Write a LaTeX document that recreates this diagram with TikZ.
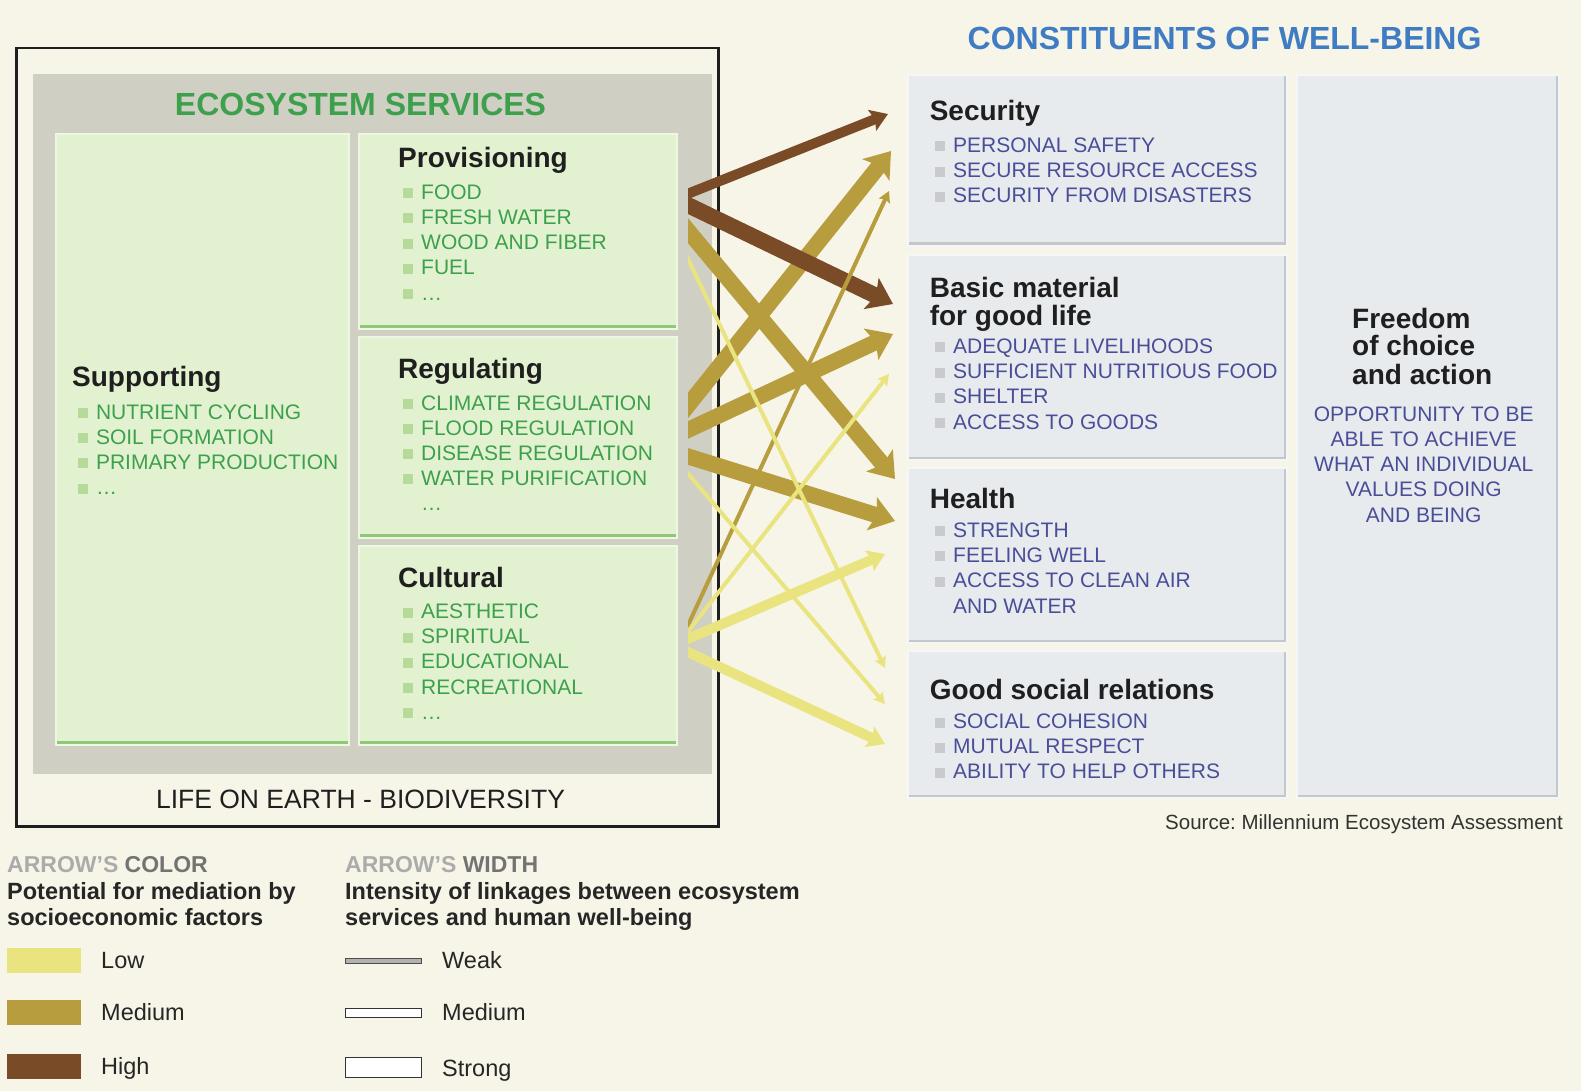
\documentclass[tikz,border=0pt]{standalone}
\usepackage{fontspec}
\setmainfont{Liberation Sans}
\usepackage{xcolor}
\usetikzlibrary{arrows.meta}
\definecolor{PageBg}{HTML}{F7F5E8}
\definecolor{PanelGray}{HTML}{D0CFC3}
\definecolor{GreenFill}{HTML}{E2F2D0}
\definecolor{GreenLight}{HTML}{EDF7E2}
\definecolor{GreenEdge}{HTML}{8FC977}
\definecolor{GreenText}{HTML}{3DA04C}
\definecolor{GreenSq}{HTML}{B6DA9A}
\definecolor{BlueFill}{HTML}{E8EBEE}
\definecolor{BlueEdge}{HTML}{C4C8CC}
\definecolor{BlueText}{HTML}{4A4E98}
\definecolor{BlueTitle}{HTML}{3F7CC4}
\definecolor{GraySq}{HTML}{C8CACD}
\definecolor{LowCol}{HTML}{E9E47F}
\definecolor{MedCol}{HTML}{B79D3E}
\definecolor{HighCol}{HTML}{7A4B27}
\newcommand{\gsq}{\textcolor{GreenSq}{\rule[1pt]{10pt}{10pt}}\hspace{8pt}}
\newcommand{\wsq}{\textcolor{GraySq}{\rule[1pt]{10pt}{10pt}}\hspace{8pt}}
\frenchspacing

\begin{document}
\begin{tikzpicture}[x=1pt,y=-1pt,
        gbox/.style={anchor=north west, inner sep=0pt, fill=GreenFill, draw=GreenLight, line width=2pt,
            path picture={\draw[GreenEdge,line width=8pt] (path picture bounding box.south west) -- (path picture bounding box.south east);}},
        wbox/.style={anchor=north west, inner sep=0pt, fill=BlueFill, draw=white!55!BlueFill, line width=2pt,
            path picture={\draw[BlueEdge,line width=7pt] (path picture bounding box.south west) -- (path picture bounding box.south east) -- (path picture bounding box.north east);}},
        head/.style={anchor=base west, inner sep=0pt, font=\bfseries\fontsize{28}{30}\selectfont, text=black!88},
        gitem/.style={anchor=base west, inner sep=0pt, font=\fontsize{21}{25}\selectfont, text=GreenText},
        witem/.style={anchor=base west, inner sep=0pt, font=\fontsize{21}{25}\selectfont, text=BlueText},
        legend/.style={anchor=base west, inner sep=0pt, font=\fontsize{23.5}{26}\selectfont, text=black!85},
        swatch/.style={anchor=north west, inner sep=0pt, minimum width=74pt, minimum height=25pt},
        StrongLink/.style={line width=16pt, -{Stealth[length=24pt,width=34pt,inset=5pt]}},
        MediumLink/.style={line width=10pt, -{Stealth[length=17pt,width=22pt,inset=3pt]}},
        WeakLink/.style={line width=4pt, -{Stealth[length=11pt,width=12pt,inset=2pt]}}]
                \fill[PageBg] (0,0) rectangle (1581,1091);

                % left side: ecosystem services
                \node[draw=black!88, line width=2.5pt, anchor=north west, inner sep=0pt, minimum width=702pt, minimum height=778pt] (frame) at (15,47) {};
                \node[fill=PanelGray, anchor=north west, inner sep=0pt, minimum width=679pt, minimum height=700pt] (panel) at (33,74) {};
                \node[font=\bfseries\fontsize{32}{34}\selectfont, text=GreenText, anchor=base, inner sep=0pt] (es) at (360.5,115.4) {ECOSYSTEM SERVICES};
                \node[gbox, minimum width=293pt, minimum height=611pt] (supp) at (55,133) {};
                \node[gbox, minimum width=318pt, minimum height=195pt] (prov) at (358,133) {};
                \node[gbox, minimum width=318pt, minimum height=201pt] (reg) at (358,336) {};
                \node[gbox, minimum width=318pt, minimum height=199pt] (cult) at (358,545) {};

                \node[head] (suppT) at (72,386) {Supporting};
                \foreach[count=\i] \lbl in {NUTRIENT CYCLING, SOIL FORMATION, PRIMARY PRODUCTION, \dots} {
                    \node[gitem] (supp-\i) at (77.8,393.8+25.2*\i) {\gsq\lbl};
                }
                \node[head] (provT) at (398,168) {Provisioning};
                \foreach[count=\i] \lbl in {FOOD, FRESH WATER, WOOD AND FIBER, FUEL, \dots} {
                    \node[gitem] (prov-\i) at (403,174+25.2*\i) {\gsq\lbl};
                }
                \node[head] (regT) at (398,378) {Regulating};
                \foreach[count=\i] \lbl in {CLIMATE REGULATION, FLOOD REGULATION, DISEASE REGULATION, WATER PURIFICATION} {
                    \node[gitem] (reg-\i) at (403,385+25*\i) {\gsq\lbl};
                }
                \node[gitem] (reg-5) at (421,510) {\dots};
                \node[head] (cultT) at (398,587) {Cultural};
                \foreach[count=\i] \lbl in {AESTHETIC, SPIRITUAL, EDUCATIONAL, RECREATIONAL, \dots} {
                    \node[gitem] (cult-\i) at (403,593.3+25.2*\i) {\gsq\lbl};
                }
                \node[font=\fontsize{26.5}{28}\selectfont, text=black!88, anchor=base, inner sep=0pt] (life) at (360.5,808) {LIFE ON EARTH - BIODIVERSITY};

                % right side: constituents of well-being
                \node[font=\bfseries\fontsize{32}{34}\selectfont, text=BlueTitle, anchor=base, inner sep=0pt] (cwb) at (1224.6,49.8) {CONSTITUENTS OF WELL-BEING};
                \node[wbox, minimum width=379pt, minimum height=171pt] (sec) at (907,74) {};
                \node[wbox, minimum width=379pt, minimum height=205pt] (basic) at (907,254) {};
                \node[wbox, minimum width=379pt, minimum height=175pt] (health) at (907,467) {};
                \node[wbox, minimum width=379pt, minimum height=147pt] (social) at (907,650) {};
                \node[wbox, minimum width=262pt, minimum height=723pt] (free) at (1296,74) {};

                \node[head] (secT) at (929.6,121) {Security};
                \foreach[count=\i] \lbl in {PERSONAL SAFETY, SECURE RESOURCE ACCESS, SECURITY FROM DISASTERS} {
                    \node[witem] (sec-\i) at (935,127.3+25.2*\i) {\wsq\lbl};
                }
                \node[head] (basicT) at (929.6,297.4) {Basic material};
                \node[head] (basicT2) at (929.6,325.6) {for good life};
                \foreach[count=\i] \lbl in {ADEQUATE LIVELIHOODS, SUFFICIENT NUTRITIOUS FOOD, SHELTER, ACCESS TO GOODS} {
                    \node[witem] (basic-\i) at (935,328.2+25.2*\i) {\wsq\lbl};
                }
                \node[head] (healthT) at (929.6,508) {Health};
                \foreach[count=\i] \lbl in {STRENGTH, FEELING WELL, ACCESS TO CLEAN AIR} {
                    \node[witem] (health-\i) at (935,511.6+25.4*\i) {\wsq\lbl};
                }
                \node[witem] (health-4) at (953,613.5) {AND WATER};
                \node[head] (socialT) at (929.6,699.7) {Good social relations};
                \foreach[count=\i] \lbl in {SOCIAL COHESION, MUTUAL RESPECT, ABILITY TO HELP OTHERS} {
                    \node[witem] (social-\i) at (935,703.3+25.2*\i) {\wsq\lbl};
                }
                \node[head] (freeT1) at (1352,328.6) {Freedom};
                \node[head] (freeT2) at (1352,355.9) {of choice};
                \node[head] (freeT3) at (1352,384) {and action};
                \foreach[count=\i] \lbl in {OPPORTUNITY TO BE, ABLE TO ACHIEVE, WHAT AN INDIVIDUAL, VALUES DOING, AND BEING} {
                    \node[witem, anchor=base] (free-\i) at (1423.7,396+25.2*\i) {\lbl};
                }
                \node[anchor=base east, inner sep=0pt, font=\fontsize{20.5}{22}\selectfont, text=black!80] (src) at (1563,829) {Source: Millennium Ecosystem Assessment};

                % linkages
                \begin{scope}
                \clip (688,0) rectangle (1581,1091);
                \draw[MedCol, StrongLink] ([shift={(0,-19.6)}]reg.east) -- ([shift={(-16,-9.5)}]sec.west);
                \draw[MedCol, StrongLink] ([shift={(0,-2.9)}]reg.east) -- ([shift={(-14,-23.5)}]basic.west);
                \draw[MedCol, StrongLink] ([shift={(0,15.8)}]reg.east) -- ([shift={(-12,-34.5)}]health.west);
                \draw[MedCol, StrongLink] ([shift={(0,-12.8)}]prov.east) -- ([shift={(-12,-76.5)}]health.west);
                \draw[HighCol, StrongLink] ([shift={(0,-31.2)}]prov.east) -- ([shift={(-14,-53.5)}]basic.west);
                \draw[HighCol, MediumLink] ([shift={(0,-33.8)}]prov.east) -- ([shift={(-19,-46.5)}]sec.west);
                \draw[LowCol, MediumLink] ([shift={(0,-2.4)}]cult.east) -- ([shift={(-22,-1.5)}]health.west);
                \draw[LowCol, MediumLink] ([shift={(0,2.0)}]cult.east) -- ([shift={(-22,19.5)}]social.west);
                \draw[MedCol, WeakLink] ([shift={(0,1.2)}]cult.east) -- ([shift={(-18,30.5)}]sec.west);
                \draw[LowCol, WeakLink] ([shift={(0,-1.3)}]cult.east) -- ([shift={(-18,16.5)}]basic.west);
                \draw[LowCol, WeakLink] ([shift={(0,6.8)}]prov.east) -- ([shift={(-22,-56.5)}]social.west);
                \draw[LowCol, WeakLink] ([shift={(0,24.6)}]reg.east) -- ([shift={(-22,-20.5)}]social.west);
                \end{scope}

                % legend
                \node[legend, font=\bfseries\fontsize{23}{26}\selectfont] (colT) at (7,872) {\textcolor{black!33}{ARROW'S} \textcolor{black!55}{COLOR}};
                \node[legend, font=\bfseries\fontsize{23.5}{26}\selectfont] (colL1) at (7,899.6) {Potential for mediation by};
                \node[legend, font=\bfseries\fontsize{23.5}{26}\selectfont] (colL2) at (7,925.8) {socioeconomic factors};
                \node[swatch, fill=LowCol] (low) at (7,948) {};
                \node[swatch, fill=MedCol] (med) at (7,1000) {};
                \node[swatch, fill=HighCol] (high) at (7,1054) {};
                \node[legend] (lowL) at (101,968) {Low};
                \node[legend] (medL) at (101,1020) {Medium};
                \node[legend] (highL) at (101,1074) {High};

                \node[legend, font=\bfseries\fontsize{23}{26}\selectfont] (widT) at (345,872) {\textcolor{black!33}{ARROW'S} \textcolor{black!55}{WIDTH}};
                \node[legend, font=\bfseries\fontsize{23.5}{26}\selectfont] (widL1) at (345,899.6) {Intensity of linkages between ecosystem};
                \node[legend, font=\bfseries\fontsize{23.5}{26}\selectfont] (widL2) at (345,925.8) {services and human well-being};
                \node[anchor=west, inner sep=0pt, draw=black!70, fill=black!30, line width=1pt, minimum width=76pt, minimum height=5pt] (weak) at (345,961) {};
                \node[anchor=west, inner sep=0pt, draw=black!80, fill=white, line width=1pt, minimum width=76pt, minimum height=9pt] (medium) at (345,1012.5) {};
                \node[anchor=west, inner sep=0pt, draw=black!80, fill=white, line width=1pt, minimum width=76pt, minimum height=20pt] (strong) at (345,1067) {};
                \node[legend] (weakL) at (442,968) {Weak};
                \node[legend] (mediumL) at (442,1020) {Medium};
                \node[legend] (strongL) at (442,1076) {Strong};
            \end{tikzpicture}
\end{document}
